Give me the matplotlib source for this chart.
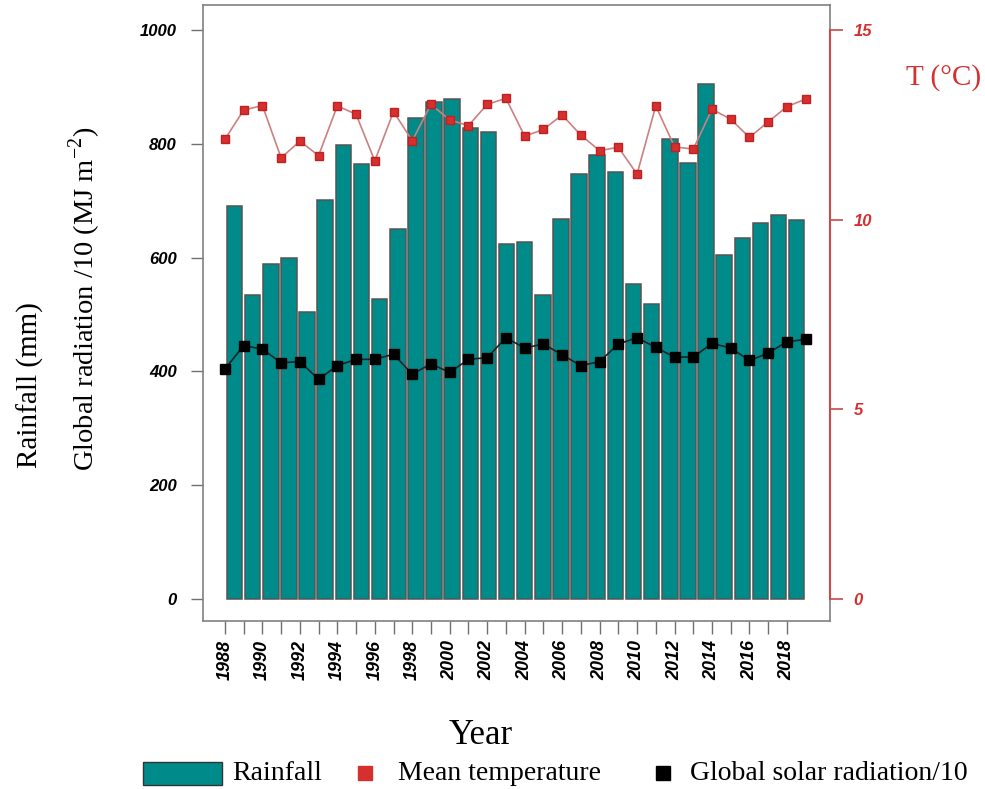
import matplotlib.pyplot as plt
import numpy as np
from matplotlib.patches import Rectangle
from matplotlib.lines import Line2D

plt.rcParams['mathtext.fontset'] = 'custom'
plt.rcParams['mathtext.rm'] = 'Liberation Serif'

years = list(range(1988, 2020))
rainfall = [691, 534, 588, 599, 505, 701, 798, 765, 527, 650, 846, 874, 879, 828, 820, 624,
            627, 535, 667, 746, 780, 750, 553, 518, 809, 767, 905, 605, 635, 660, 674, 666]
temperature = [12.12, 12.89, 13.01, 11.63, 12.07, 11.69, 13.00, 12.78, 11.55, 12.85, 12.08, 13.04,
               12.63, 12.48, 13.04, 13.20, 12.20, 12.38, 12.76, 12.23, 11.82, 11.91, 11.20, 13.00,
               11.92, 11.86, 12.91, 12.65, 12.17, 12.58, 12.98, 13.18]
radiation10 = [404, 445, 439, 415, 417, 386, 410, 421, 421, 430, 395, 413, 398, 421, 424, 459,
               441, 448, 429, 410, 417, 448, 459, 442, 425, 425, 449, 441, 419, 432, 452, 456]

teal = '#008b8b'
red = '#d62f2f'
tick_font = dict(family='Liberation Sans', weight='bold', style='italic')

fig = plt.figure(figsize=(9.85, 7.89), dpi=100)
ax = fig.add_axes([203 / 985, 1 - 621 / 789, 627 / 985, 616 / 789])

x = np.arange(len(years))
bar_left = 0.1 + x * 0.968
ax.bar(bar_left, rainfall, width=0.83, align='edge', color=teal, edgecolor='#555555',
       linewidth=1.1, zorder=2)
ax.plot(x, radiation10, color='#222222', linewidth=1.2, marker='s', markersize=6.8,
        markerfacecolor='black', markeredgecolor='black', zorder=4)

ax.set_xlim(-1.17, 32.3)
ax.set_ylim(-39, 1044)
ax.set_yticks([0, 200, 400, 600, 800, 1000])
ax.set_yticklabels(['0', '200', '400', '600', '800', '1000'], fontsize=12, **tick_font)
ax.set_xticks(x[:-1])
ax.set_xticklabels([str(y) if y % 2 == 0 else '' for y in years[:-1]], rotation=90,
                   fontsize=13, **tick_font)
ax.tick_params(axis='both', length=9, width=1, color='#707070', pad=5)
ax.tick_params(axis='y', pad=10)
for s in ax.spines.values():
    s.set_color('#808080')
    s.set_linewidth(1.2)

ax2 = ax.twinx()
ax2.plot(x, temperature, color='#cc8080', linewidth=1.2, marker='s', markersize=6,
         markerfacecolor=red, markeredgecolor='#c02020', zorder=5)
ax2.set_ylim(-0.58, 15.66)
ax2.set_yticks([0, 5, 10, 15])
ax2.set_yticklabels(['0', '5', '10', '15'], fontsize=12, color=red, **tick_font)
ax2.tick_params(axis='y', length=9, width=1.2, color='#c84a4a', pad=8)
ax2.spines['right'].set_color('#c84a4a')
ax2.spines['right'].set_bounds(0, 15)
ax2.spines['right'].set_linewidth(1.5)
for k in ['top', 'left', 'bottom']:
    ax2.spines[k].set_visible(False)

serif = 'Liberation Serif'
fig.text(30 / 985, 1 - 385 / 789, 'Rainfall (mm)', rotation=90, ha='center', va='center',
         fontsize=21, family=serif)
fig.text(85 / 985, 1 - 299 / 789, 'Global radiation /10 (MJ m$^{-2}$)', rotation=90,
         ha='center', va='center', fontsize=20.5, family=serif)
fig.text(481 / 985, 1 - 735 / 789, 'Year', ha='center', va='center', fontsize=25, family=serif)
fig.text(944 / 985, 1 - 78 / 789, 'T (°C)', ha='center', va='center', fontsize=21,
         family=serif, color=red)

# legend drawn by hand to match the spacing
ly = 1 - 773 / 789
fig.add_artist(Rectangle((143 / 985, 1 - 785 / 789), 79 / 985, 23 / 789,
                         facecolor=teal, edgecolor='#333333', linewidth=1,
                         transform=fig.transFigure))
fig.text(232 / 985, ly, 'Rainfall', ha='left', va='center', fontsize=20, family=serif)
fig.add_artist(Line2D([365 / 985], [ly], marker='s', markersize=9.5, color=red,
                      transform=fig.transFigure))
fig.text(398 / 985, ly, 'Mean temperature', ha='left', va='center', fontsize=20, family=serif)
fig.add_artist(Line2D([663 / 985], [ly], marker='s', markersize=9.5, color='black',
                      transform=fig.transFigure))
fig.text(690 / 985, ly, 'Global solar radiation/10', ha='left', va='center', fontsize=20,
         family=serif)

fig.savefig('out.png', dpi=100)
